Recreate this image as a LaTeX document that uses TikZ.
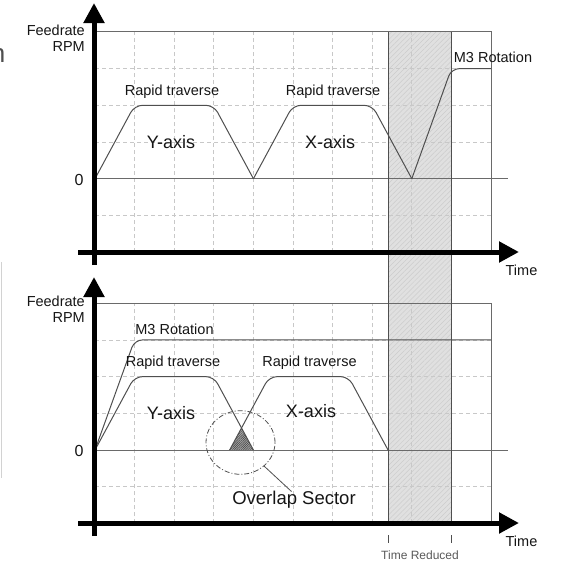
\documentclass[tikz,border=0pt]{standalone}
\usepackage{fontspec}
\setmainfont{Liberation Sans}
\usetikzlibrary{arrows.meta,patterns.meta,shapes.geometric}
\definecolor{curvec}{HTML}{4F4F4F}
\definecolor{gridc}{HTML}{C8C8C8}
\definecolor{framec}{HTML}{6A6A6A}
\definecolor{bandc}{HTML}{E0E0E0}
\definecolor{textc}{HTML}{151515}
\begin{document}
\begin{tikzpicture}[x=1pt,y=-1pt,
  gridline/.style={gridc,line width=0.8pt,dash pattern=on 4pt off 3pt},
  frame/.style={framec,line width=0.9pt},
  curve/.style={curvec,line width=1pt,rounded corners=8pt},
  axisline/.style={black,line width=5pt,-{Triangle[length=20pt,width=20pt]}},
  lbl/.style={inner sep=0pt,text=textc,font=\fontsize{14.5}{15.5}\selectfont},
  big/.style={inner sep=0pt,text=textc,font=\fontsize{18}{20}\selectfont},
  tick/.style={curvec,line width=1pt},
]
\useasboundingbox (0,0) rectangle (575,562);

% stray fragments at the left edge
\node[inner sep=0pt,anchor=base east,text=curvec,font=\fontsize{26}{26}\selectfont] (frag) at (5.5,62) {n};
\draw[gray!35,line width=1pt] (1,262) -- (1,478);

% shaded band (time reduced)
\fill[bandc] (388,32) rectangle (451,523);
\fill[pattern={Lines[angle=45,distance=3.5pt,line width=0.5pt]},pattern color=gray!40] (388,32) rectangle (451,523);

% ---------------- top chart ----------------
\begin{scope}[shift={(95,178.7)},x=39.6pt,y=36.7pt]
  \foreach \i in {1,...,9} \draw[gridline] (\i,-2) -- (\i,4);
  \foreach \j in {-1,1,2,3} \draw[gridline] (0,\j) -- (10,\j);
  \draw[frame] (0,4) -- (10,4) -- (10,-2);
  \draw[frame] (0,0) -- (10.43,0);
  \draw[curve] (0,0) -- (1,2) -- (3,2) -- (4,0);
  \draw[curve] (4,0) -- (5,2) -- (7,2) -- (8,0);
  \draw[curve] (8,0) -- (9,3) -- (10,3);
\end{scope}

% ---------------- bottom chart ----------------
\begin{scope}[shift={(95,450)},x=39.6pt,y=36.7pt]
  \foreach \i in {1,...,9} \draw[gridline] (\i,-2) -- (\i,4);
  \foreach \j in {-1,1,2,3} \draw[gridline] (0,\j) -- (10,\j);
  \draw[frame] (0,4) -- (10,4) -- (10,-2);
  \draw[frame] (0,0) -- (10.43,0);
  \fill[gray!70] (3.4,0) -- (4,0) -- (3.7,0.6) -- cycle;
  \fill[pattern={Lines[angle=45,distance=1.6pt,line width=0.5pt]},pattern color=black!75] (3.4,0) -- (4,0) -- (3.7,0.6) -- cycle;
  \draw[curve] (0,0) -- (1,3) -- (10,3);
  \draw[curve] (0,0) -- (1,2) -- (3,2) -- (4,0);
  \draw[curve] (3.4,0) -- (4.4,2) -- (6.4,2) -- (7.4,0);
\end{scope}

% band edges
\draw[curvec,line width=1pt] (388,32) -- (388,523);
\draw[curvec,line width=1pt] (451,32) -- (451,523);

% axes
\coordinate (ya1) at (94,265); \coordinate (yb1) at (94,3);
\coordinate (xa1) at (78,252); \coordinate (xb1) at (519,252);
\coordinate (ya2) at (94,536); \coordinate (yb2) at (94,277);
\coordinate (xa2) at (78,523); \coordinate (xb2) at (519,523);
\draw[axisline] (ya1) -- (yb1);
\draw[axisline] (xa1) -- (xb1);
\draw[axisline] (ya2) -- (yb2);
\draw[axisline] (xa2) -- (xb2);

% top chart labels
\node[lbl,align=right,anchor=north east] (fr1) at (85,25) {Feedrate\\RPM};
\node[inner sep=0pt,text=textc,font=\fontsize{16}{16}\selectfont] (z1) at (79,180) {0};
\node[lbl] (rt1) at (172,92) {Rapid traverse};
\node[lbl] (rt2) at (333,92) {Rapid traverse};
\node[big] (ya) at (171,142) {Y-axis};
\node[big] (xa) at (330,142) {X-axis};
\node[lbl] (m31) at (493,57) {M3 Rotation};
\node[lbl] (t1) at (521.5,270) {Time};

% bottom chart labels
\node[lbl,align=right,anchor=north east] (fr2) at (85,296) {Feedrate\\RPM};
\node[inner sep=0pt,text=textc,font=\fontsize{16}{16}\selectfont] (z2) at (79,451) {0};
\node[lbl] (m32) at (174.5,329) {M3 Rotation};
\node[lbl] (rt3) at (173,363) {Rapid traverse};
\node[lbl] (rt4) at (309.5,363) {Rapid traverse};
\node[big] (yb) at (171,413) {Y-axis};
\node[big] (xb) at (311,411) {X-axis};
\node[lbl] (t2) at (521.5,541) {Time};

% overlap sector
\node[draw=curvec,line width=0.8pt,dash pattern=on 5pt off 2pt on 1pt off 2pt,ellipse,minimum width=69pt,minimum height=63.6pt,inner sep=0pt] (ov) at (240.5,442.5) {};
\node[inner sep=0pt,text=textc,font=\fontsize{18.5}{20}\selectfont] (ovl) at (294,500) {Overlap Sector};
\coordinate (ovend) at (291.5,491.5);
\draw[curvec,line width=0.8pt] (ov.-45) -- (ovend);

% time reduced
\coordinate (ta1) at (388,535); \coordinate (tb1) at (388,543);
\coordinate (ta2) at (451,535); \coordinate (tb2) at (451,543);
\draw[tick] (ta1) -- (tb1);
\draw[tick] (ta2) -- (tb2);
\node[inner sep=0pt,text=black!65,font=\fontsize{12}{12}\selectfont] (tr) at (420,555) {Time Reduced};
\end{tikzpicture}
\end{document}
